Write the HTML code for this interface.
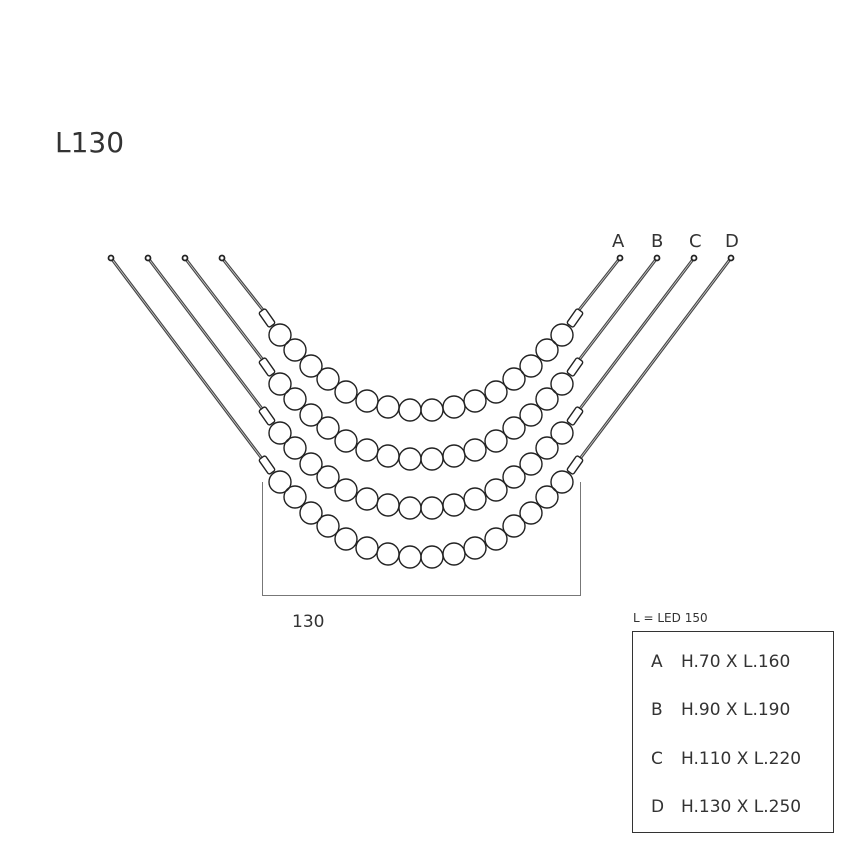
<!DOCTYPE html>
<html><head><meta charset="utf-8"><style>
html,body{margin:0;padding:0;background:#fff;}
svg{display:block;}
text{font-family:"DejaVu Sans","Liberation Sans",sans-serif;fill:#333;}
</style></head><body>
<svg width="866" height="861" viewBox="0 0 866 861" xmlns="http://www.w3.org/2000/svg">
<defs>
<g id="str" fill="none" stroke="#222" stroke-width="1.4">
<circle cx="280" cy="335" r="11"/><circle cx="295" cy="350" r="11"/><circle cx="311" cy="366" r="11"/><circle cx="328" cy="379" r="11"/>
<circle cx="346" cy="392" r="11"/><circle cx="367" cy="401" r="11"/><circle cx="388" cy="407" r="11"/><circle cx="410" cy="410" r="11"/>
<circle cx="432" cy="410" r="11"/><circle cx="454" cy="407" r="11"/><circle cx="475" cy="401" r="11"/><circle cx="496" cy="392" r="11"/>
<circle cx="514" cy="379" r="11"/><circle cx="531" cy="366" r="11"/><circle cx="547" cy="350" r="11"/><circle cx="562" cy="335" r="11"/>
<rect x="-4" y="-9" width="8" height="18" rx="2" transform="translate(267,318) rotate(-35)" fill="#fff"/>
<rect x="-4" y="-9" width="8" height="18" rx="2" transform="translate(575,318) rotate(35)" fill="#fff"/>
</g>
</defs>
<text x="55" y="152" font-size="28">L130</text>
<g stroke="#444" stroke-width="3" fill="none">
<line x1="111" y1="258" x2="263" y2="460"/><line x1="148" y1="258" x2="263" y2="410"/>
<line x1="185" y1="258" x2="263" y2="360"/><line x1="222" y1="258" x2="263" y2="310"/>
<line x1="731" y1="258" x2="579" y2="460"/><line x1="694" y1="258" x2="579" y2="410"/>
<line x1="657" y1="258" x2="579" y2="360"/><line x1="620" y1="258" x2="579" y2="310"/>
</g>
<g stroke="#ccc" stroke-width="0.8" fill="none">
<line x1="111" y1="258" x2="263" y2="460"/><line x1="148" y1="258" x2="263" y2="410"/>
<line x1="185" y1="258" x2="263" y2="360"/><line x1="222" y1="258" x2="263" y2="310"/>
<line x1="731" y1="258" x2="579" y2="460"/><line x1="694" y1="258" x2="579" y2="410"/>
<line x1="657" y1="258" x2="579" y2="360"/><line x1="620" y1="258" x2="579" y2="310"/>
</g>
<g fill="#fff" stroke="#222" stroke-width="1.8">
<circle cx="111" cy="258" r="2.5"/><circle cx="148" cy="258" r="2.5"/><circle cx="185" cy="258" r="2.5"/><circle cx="222" cy="258" r="2.5"/>
<circle cx="620" cy="258" r="2.5"/><circle cx="657" cy="258" r="2.5"/><circle cx="694" cy="258" r="2.5"/><circle cx="731" cy="258" r="2.5"/>
</g>
<use href="#str"/>
<use href="#str" transform="translate(0,49)"/>
<use href="#str" transform="translate(0,98)"/>
<use href="#str" transform="translate(0,147)"/>
<g font-size="18">
<text x="612" y="247">A</text><text x="651" y="247">B</text><text x="689" y="247">C</text><text x="725" y="247">D</text>
</g>
<g stroke="#777" stroke-width="1" fill="none">
<line x1="262.5" y1="482" x2="262.5" y2="595"/><line x1="580.5" y1="482" x2="580.5" y2="595"/>
<line x1="262" y1="595.5" x2="581" y2="595.5"/>
</g>
<text x="292" y="627" font-size="17">130</text>
<text x="633" y="622" font-size="12">L = LED 150</text>
<rect x="632.5" y="631.5" width="201" height="201" fill="none" stroke="#333" stroke-width="1"/>
<g font-size="17">
<text x="651" y="667">A</text><text x="681" y="667">H.70 X L.160</text>
<text x="651" y="715">B</text><text x="681" y="715">H.90 X L.190</text>
<text x="651" y="764">C</text><text x="681" y="764">H.110 X L.220</text>
<text x="651" y="812">D</text><text x="681" y="812">H.130 X L.250</text>
</g>
</svg>
</body></html>
